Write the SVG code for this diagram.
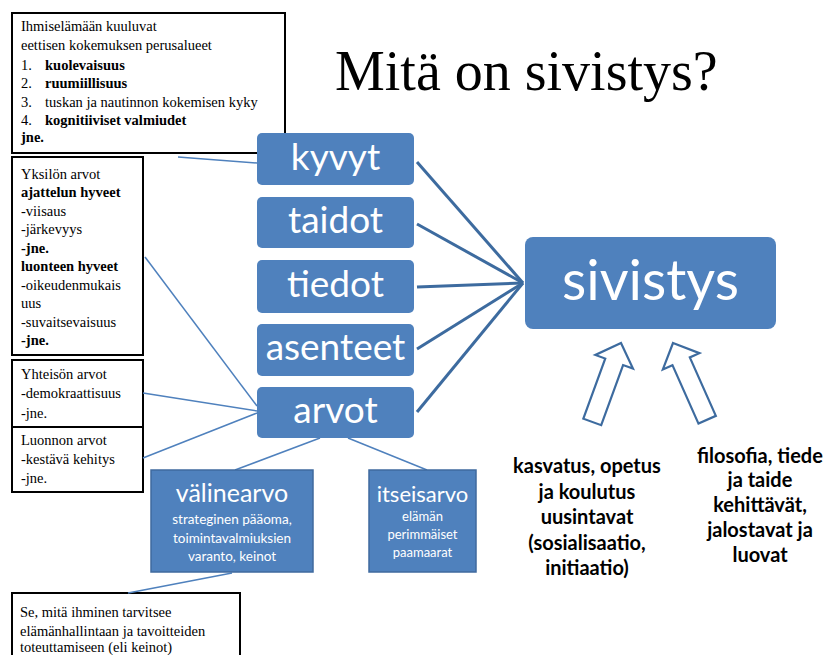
<svg xmlns="http://www.w3.org/2000/svg" width="833" height="655" viewBox="0 0 833 655">
<style>
.tb{fill:#fff;stroke:#000;stroke-width:2}
.st{font-family:"Liberation Serif","Times New Roman",serif;font-size:14.5px;fill:#000}
.b{font-weight:bold}
.node{fill:#4F81BD}
.sq{fill:#4F81BD;stroke:#3F6A9E;stroke-width:1.5}
.wt{font-family:Lato,"Open Sans",sans-serif;fill:#fff;text-anchor:middle}
.bt{font-family:Lato,"Open Sans",sans-serif;font-weight:bold;fill:#000;text-anchor:middle;font-size:20px}
.lc{stroke:#4F81BD;stroke-width:1.5;fill:none}
.rc{stroke:#3D6B9F;stroke-width:3;fill:none}
.ar{fill:#fff;stroke:#3D6B9F;stroke-width:2.2;stroke-linejoin:miter}
</style>
<defs>
<polygon id="uparrow" points="0,0 20,20 9.5,20 9.5,84 -9.5,84 -9.5,20 -20,20"/>
</defs>
<rect width="833" height="655" fill="#fff"/>

<text x="335" y="90" font-family="'Liberation Serif','Times New Roman',serif" font-size="56" fill="#000">Mitä on sivistys?</text>

<g id="box-ihmiselama">
<rect class="tb" x="12" y="13" width="273" height="140"/>
<text class="st" x="21" y="31">Ihmiselämään kuuluvat</text>
<text class="st" x="21" y="50">eettisen kokemuksen perusalueet</text>
<text class="st" x="21" y="70">1.</text><text class="st b" x="45" y="70">kuolevaisuus</text>
<text class="st" x="21" y="88">2.</text><text class="st b" x="45" y="88">ruumiillisuus</text>
<text class="st" x="21" y="107">3.</text><text class="st" x="45" y="107">tuskan ja nautinnon kokemisen kyky</text>
<text class="st" x="21" y="125">4.</text><text class="st b" x="45" y="125">kognitiiviset  valmiudet</text>
<text class="st b" x="21" y="142">jne.</text>
</g>

<g id="box-yksilon">
<rect class="tb" x="12" y="157" width="131" height="198"/>
<text class="st" x="21" y="179">Yksilön arvot</text>
<text class="st b" x="21" y="197">ajattelun hyveet</text>
<text class="st" x="21" y="216">-viisaus</text>
<text class="st" x="21" y="234">-järkevyys</text>
<text class="st b" x="21" y="253">-jne.</text>
<text class="st b" x="21" y="271">luonteen hyveet</text>
<text class="st" x="21" y="290">-oikeudenmukais</text>
<text class="st" x="21" y="308">uus</text>
<text class="st" x="21" y="327">-suvaitsevaisuus</text>
<text class="st b" x="21" y="345">-jne.</text>
</g>

<g id="box-yhteison">
<rect class="tb" x="12" y="360" width="131" height="67"/>
<text class="st" x="21" y="379">Yhteisön arvot</text>
<text class="st" x="21" y="398">-demokraattisuus</text>
<text class="st" x="21" y="418">-jne.</text>
</g>

<g id="box-luonnon">
<rect class="tb" x="12" y="427" width="131" height="65"/>
<text class="st" x="21" y="445">Luonnon arvot</text>
<text class="st" x="21" y="464">-kestävä kehitys</text>
<text class="st" x="21" y="483">-jne.</text>
</g>

<g id="box-se">
<rect class="tb" x="12" y="593" width="228" height="70"/>
<text class="st" x="20" y="617">Se, mitä ihminen tarvitsee</text>
<text class="st" x="20" y="636">elämänhallintaan ja tavoitteiden</text>
<text class="st" x="20" y="652">toteuttamiseen (eli keinot)</text>
</g>

<g id="connectors">
<line class="lc" x1="178" y1="157" x2="257" y2="163"/>
<line class="lc" x1="145" y1="257" x2="257" y2="406"/>
<line class="lc" x1="143" y1="393" x2="257" y2="411"/>
<line class="lc" x1="143" y1="458" x2="257" y2="413"/>
<line class="lc" x1="320" y1="438" x2="235" y2="470"/>
<line class="lc" x1="348" y1="438" x2="427" y2="470"/>
<line class="lc" x1="232" y1="573" x2="128" y2="593"/>
<line class="rc" x1="417" y1="162" x2="523" y2="283"/>
<line class="rc" x1="417" y1="224" x2="523" y2="283"/>
<line class="rc" x1="417" y1="287" x2="523" y2="283"/>
<line class="rc" x1="417" y1="349" x2="523" y2="283"/>
<line class="rc" x1="417" y1="412" x2="523" y2="283"/>
</g>

<g id="kyvyt"><rect class="node" x="257" y="133" width="157" height="52" rx="5"/><text class="wt" x="335.5" y="170" font-size="37">kyvyt</text></g>
<g id="taidot"><rect class="node" x="257" y="197" width="157" height="51" rx="5"/><text class="wt" x="335.5" y="233" font-size="37">taidot</text></g>
<g id="tiedot"><rect class="node" x="257" y="260" width="157" height="53" rx="5"/><text class="wt" x="335.5" y="297" font-size="37">tiedot</text></g>
<g id="asenteet"><rect class="node" x="257" y="324" width="157" height="52" rx="5"/><text class="wt" x="335.5" y="360" font-size="37">asenteet</text></g>
<g id="arvot"><rect class="node" x="257" y="387" width="157" height="51" rx="5"/><text class="wt" x="335.5" y="423" font-size="37">arvot</text></g>

<g id="sivistys"><rect class="node" x="525" y="237" width="251" height="92" rx="8"/><text class="wt" x="650.5" y="300" font-size="56">sivistys</text></g>

<g id="valinearvo">
<rect class="sq" x="151" y="470" width="162" height="102"/>
<text class="wt" x="232" y="502" font-size="25">välinearvo</text>
<text class="wt" x="232" y="524" font-size="13.5">strateginen pääoma,</text>
<text class="wt" x="232" y="543" font-size="13.5">toimintavalmiuksien</text>
<text class="wt" x="232" y="561" font-size="13.5">varanto, keinot</text>
</g>

<g id="itseisarvo">
<rect class="sq" x="369" y="470" width="107" height="102"/>
<text class="wt" x="422.5" y="502" font-size="22">itseisarvo</text>
<text class="wt" x="422.5" y="521" font-size="13">elämän</text>
<text class="wt" x="422.5" y="539" font-size="13">perimmäiset</text>
<text class="wt" x="422.5" y="557" font-size="13">paamaarat</text>
</g>

<g id="arrow-kasvatus">
<use href="#uparrow" class="ar" transform="translate(621,343) rotate(20)"/>
</g>
<g id="arrow-filosofia">
<use href="#uparrow" class="ar" transform="translate(673,343) rotate(-24)"/>
</g>

<g id="kasvatus-text">
<text class="bt" x="587" y="473">kasvatus, opetus</text>
<text class="bt" x="587" y="499">ja koulutus</text>
<text class="bt" x="587" y="524">uusintavat</text>
<text class="bt" x="587" y="550">(sosialisaatio,</text>
<text class="bt" x="587" y="575">initiaatio)</text>
</g>
<g id="filosofia-text">
<text class="bt" x="760" y="463">filosofia, tiede</text>
<text class="bt" x="760" y="487">ja taide</text>
<text class="bt" x="760" y="512">kehittävät,</text>
<text class="bt" x="760" y="537">jalostavat ja</text>
<text class="bt" x="760" y="562">luovat</text>
</g>
</svg>
